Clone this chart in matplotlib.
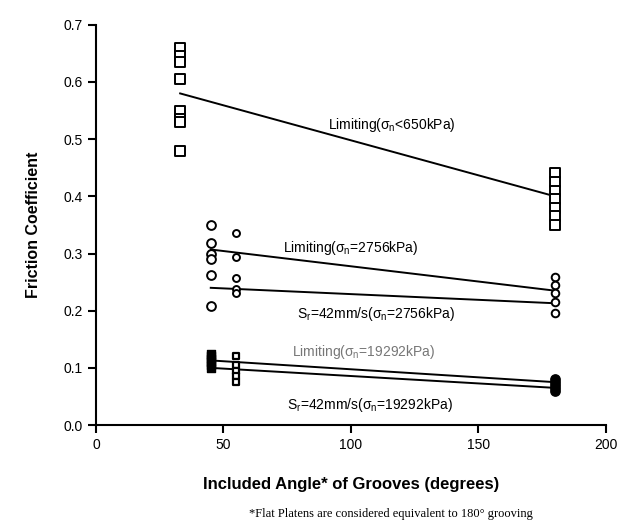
import matplotlib
matplotlib.use("Agg")
import matplotlib.pyplot as plt
import numpy as np

plt.rcParams['font.family'] = ['Liberation Sans', 'DejaVu Sans']
plt.rcParams['mathtext.fontset'] = 'custom'
plt.rcParams['mathtext.rm'] = 'Liberation Sans'
plt.rcParams['mathtext.it'] = 'Liberation Sans'

# Data: Limiting (<650 kPa) - squares
sq_x33 = [0.66, 0.645, 0.635, 0.605, 0.55, 0.535, 0.53, 0.48]
sq_x180 = [0.44, 0.425, 0.41, 0.395, 0.38, 0.365, 0.35]
# Limiting (2756 kPa) / Sr (2756 kPa) - circles
c_x45 = [0.35, 0.318, 0.30, 0.29, 0.263, 0.208]
c_x55 = [0.336, 0.294, 0.257, 0.238, 0.231]
c_x180 = [0.259, 0.245, 0.231, 0.215, 0.196]
# Limiting (19292 kPa) / Sr (19292 kPa) - filled
f_x45 = [0.125, 0.12, 0.115, 0.11, 0.105, 0.10]
f_x55 = [0.12, 0.105, 0.095, 0.085, 0.075]
f_x180 = [0.08, 0.075, 0.07, 0.065, 0.06]

# Fitted trend lines (x endpoints, y endpoints)
line_650_x = [33, 180]; line_650_y = [0.58, 0.40]
line_2756L_x = [45, 180]; line_2756L_y = [0.307, 0.235]
line_2756S_x = [45, 180]; line_2756S_y = [0.24, 0.213]
line_19292L_x = [45, 180]; line_19292L_y = [0.113, 0.075]
line_19292S_x = [45, 180]; line_19292S_y = [0.100, 0.065]

xticks = [0, 50, 100, 150, 200]
yticks = [0.0, 0.1, 0.2, 0.3, 0.4, 0.5, 0.6, 0.7]

fig = plt.figure(figsize=(6.25, 5.28), dpi=100)
ax = fig.add_axes([0.1536, 0.195, 0.816, 0.758])

ax.scatter([33]*len(sq_x33), sq_x33, marker='s', s=45, facecolors='white', edgecolors='black', linewidths=1.4, zorder=3)
ax.scatter([180]*len(sq_x180), sq_x180, marker='s', s=45, facecolors='white', edgecolors='black', linewidths=1.4, zorder=3)
ax.scatter([45]*len(c_x45), c_x45, marker='o', s=40, facecolors='white', edgecolors='black', linewidths=1.4, zorder=3)
ax.scatter([55]*len(c_x55), c_x55, marker='o', s=25, facecolors='white', edgecolors='black', linewidths=1.4, zorder=3)
ax.scatter([180]*len(c_x180), c_x180, marker='o', s=30, facecolors='white', edgecolors='black', linewidths=1.4, zorder=3)
ax.scatter([45]*len(f_x45), f_x45, marker='s', s=40, facecolors='black', edgecolors='black', linewidths=1.0, zorder=3)
ax.scatter([55]*len(f_x55), f_x55, marker='s', s=25, facecolors='white', edgecolors='black', linewidths=1.6, zorder=3)
ax.scatter([180]*len(f_x180), f_x180, marker='o', s=45, facecolors='black', edgecolors='black', linewidths=1.0, zorder=3)

for lx, ly in [(line_650_x, line_650_y), (line_2756L_x, line_2756L_y), (line_2756S_x, line_2756S_y),
               (line_19292L_x, line_19292L_y), (line_19292S_x, line_19292S_y)]:
    ax.plot(lx, ly, color='black', lw=1.4, zorder=2)

fs = 10
ax.text(91, 0.525, r'Limiting($\sigma_n$<650kPa)', fontsize=fs, va='center', ha='left')
ax.text(73.5, 0.31, r'Limiting($\sigma_n$=2756kPa)', fontsize=fs, va='center', ha='left')
ax.text(79, 0.194, r'S$_r$=42mm/s($\sigma_n$=2756kPa)', fontsize=fs, va='center', ha='left')
ax.text(77, 0.128, r'Limiting($\sigma_n$=19292kPa)', fontsize=fs, va='center', ha='left', color='#777777')
ax.text(75, 0.035, r'S$_r$=42mm/s($\sigma_n$=19292kPa)', fontsize=fs, va='center', ha='left')

ax.set_xlim(0, 200)
ax.set_ylim(0, 0.7)
ax.set_xticks(xticks)
ax.set_yticks(yticks)
ax.set_xticklabels([str(v) for v in xticks], fontsize=10)
ax.set_yticklabels([f'{v:.1f}' for v in yticks], fontsize=10)
ax.spines['top'].set_visible(False)
ax.spines['right'].set_visible(False)
ax.spines['left'].set_linewidth(1.5)
ax.spines['bottom'].set_linewidth(1.5)
ax.tick_params(direction='out', length=6, width=1.5)
ax.set_xlabel('Included Angle* of Grooves (degrees)', fontsize=12, fontweight='bold', labelpad=18)
ax.set_ylabel('Friction Coefficient', fontsize=11.5, fontweight='bold', labelpad=16)

fig.text(0.625, 0.027, '*Flat Platens are considered equivalent to 180\u00b0 grooving',
         fontsize=9, ha='center', va='center', family=['Liberation Serif', 'DejaVu Serif'])

fig.savefig('out.png', dpi=100, facecolor='white')
